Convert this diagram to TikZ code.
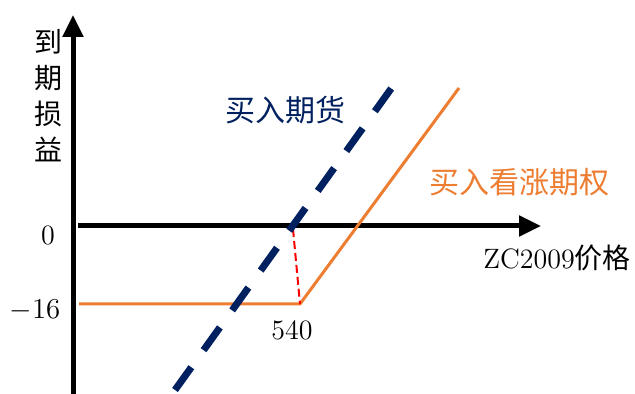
\documentclass[tikz,border=0pt]{standalone}
\usepackage{fontspec}
\newfontfamily\cjk{Noto Sans CJK SC}
\usetikzlibrary{arrows.meta}
\definecolor{futnavy}{HTML}{002060}
\definecolor{optorange}{HTML}{ED7D31}

\begin{document}
\begin{tikzpicture}[x=0.5pt,y=-0.5pt,
    axis/.style={line width=2.5pt,-{Triangle[length=11pt,width=10pt]}},
    lbl/.style={inner sep=0pt,font=\fontsize{14}{17}\selectfont},
    cjklbl/.style={inner sep=0pt,font=\fontsize{15}{18}\selectfont\cjk}]
  \useasboundingbox (0,0) rectangle (635,394);
  % axes
  \coordinate (ybot) at (73,394);
  \coordinate (ytop) at (73,15);
  \coordinate (xleft) at (78,226);
  \coordinate (xright) at (541,226);
  \draw[axis] (ybot) -- (ytop);
  \draw[axis] (xleft) -- (xright);
  % labels
  \node[cjklbl,align=center,font=\fontsize{14}{18}\selectfont\cjk] (ylabel) at (48,96) {到\\期\\损\\益};
  \node[lbl] (zero) at (48,235) {0};
  \node[lbl] (minus) at (35,310) {$-16$};
  \node[lbl] (strike) at (292,330) {540};
  \node[lbl,anchor=west] (xlabel) at (483,258) {ZC2009{\cjk 价格}};
  \node[cjklbl,text=futnavy] (futlabel) at (285,110) {买入期货};
  \node[cjklbl,text=optorange] (optlabel) at (519,182) {买入看涨期权};
  % payoff lines
  \coordinate (optstart) at (79,304);
  \coordinate (kink) at (300,304);
  \coordinate (optend) at (459,88);
  \coordinate (futbot) at (175,390);
  \coordinate (futtop) at (393,86);
  \coordinate (cross) at (293,229);
  \draw[optorange,line width=1.5pt] (optstart) -- (kink) -- (optend);
  \draw[red,line width=1pt,dash pattern=on 4pt off 2pt] (cross) -- (kink);
  \draw[futnavy,line width=3.5pt,dash pattern=on 14pt off 10.5pt] (futbot) -- (futtop);
\end{tikzpicture}
\end{document}
